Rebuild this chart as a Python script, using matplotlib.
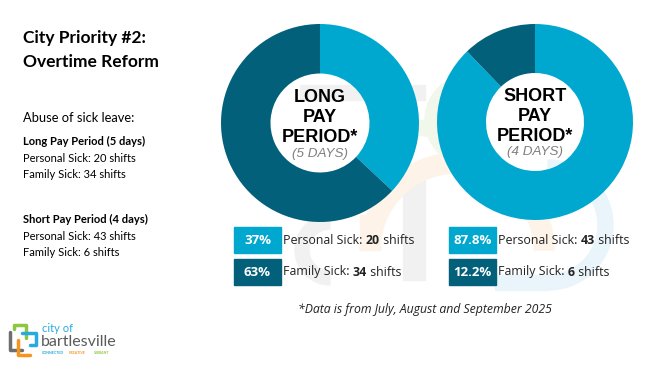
import matplotlib.pyplot as plt
from matplotlib.patches import Rectangle, Wedge

# data
periods = [["LONG", "PAY", "PERIOD*"], ["SHORT", "PAY", "PERIOD*"]]
period_days = ["(5 DAYS)", "(4 DAYS)"]
personal_pct = [37, 87.8]
family_pct = [63, 12.2]
personal_shifts = [20, 43]
family_shifts = [34, 6]
pct_labels = [["37%", "63%"], ["87.8%", "12.2%"]]

light = "#00A8CF"
dark = "#03607A"

W, H = 646, 365
fig = plt.figure(figsize=(W / 100, H / 100), dpi=100)
bg = fig.add_axes([0, 0, 1, 1])
bg.set_xlim(0, W)
bg.set_ylim(H, 0)
bg.axis("off")

# faint watermark logo behind the donuts
bg.add_patch(Wedge((428, 78), 58, 0, 180, width=15, color="#F2F7EC", zorder=0))
bg.add_patch(Wedge((470, 120), 45, 90, 270, width=14, color="#F2F7EC", zorder=0))
bg.add_patch(Rectangle((300, 85), 125, 15, color="#F1F1F1", zorder=0))
bg.add_patch(Rectangle((403, 172), 22, 108, color="#F1F1F1", zorder=0))
bg.add_patch(Wedge((330, 250), 35, 90, 270, width=14, color="#F1F1F1", zorder=0))
bg.add_patch(Wedge((457, 250), 97, 180, 360, width=20, color="#FDF3E9", zorder=0))
bg.add_patch(Rectangle((360, 215), 20, 35, color="#FDF3E9", zorder=0))
bg.add_patch(Wedge((548, 225), 65, -90, 90, width=15, color="#E9F5FB", zorder=0))
bg.add_patch(Rectangle((495, 275), 53, 15, color="#E9F5FB", zorder=0))

# left text panel
tf = "Lato"
bg.text(23, 38, "City Priority #2:", fontsize=12.5, fontweight="bold", family=tf, va="center")
bg.text(23, 62, "Overtime Reform", fontsize=12.5, fontweight="bold", family=tf, va="center")
bg.text(23, 118, "Abuse of sick leave:", fontsize=9.3, family=tf, va="center")
lines = [
    (141, "Long Pay Period (5 days)", "bold"),
    (158, f"Personal Sick: {personal_shifts[0]} shifts", "normal"),
    (175, f"Family Sick: {family_shifts[0]} shifts", "normal"),
    (219, "Short Pay Period (4 days)", "bold"),
    (236, f"Personal Sick: {personal_shifts[1]} shifts", "normal"),
    (253, f"Family Sick: {family_shifts[1]} shifts", "normal"),
]
for y, s, w in lines:
    bg.text(23, y, s, fontsize=8, fontweight=w, family=tf, va="center")

# donuts
centers = [(320, 123, 99), (535, 122, 98)]
for i, (cx, cy, r) in enumerate(centers):
    ax = fig.add_axes([(cx - r) / W, 1 - (cy + r) / H, 2 * r / W, 2 * r / H])
    ax.pie([personal_pct[i], family_pct[i]], colors=[light, dark], startangle=90,
           counterclock=False, radius=1, wedgeprops=dict(width=0.5, linewidth=0))
    ax.set_xlim(-1, 1)
    ax.set_ylim(-1, 1)
    ax.set_aspect("auto")
    ax.axis("off")
    for k, word in enumerate(periods[i]):
        ax.text(0, 0.212 - k * 0.202, word, ha="center", va="baseline", fontsize=13,
                fontweight="bold", family="Liberation Sans")
    ax.text(0, -0.34, period_days[i], ha="center", va="baseline", fontsize=9.7,
            style="italic", color="#7F7F7F", family="Liberation Sans")

# legend boxes
fig.canvas.draw()
rend = fig.canvas.get_renderer()
lf = "Open Sans"
box_x = [234, 449]
rows = [(227, light), (259, dark)]
for i in range(2):
    labels = [("Personal Sick: ", personal_shifts[i]), ("Family Sick: ", family_shifts[i])]
    for j, (by, col) in enumerate(rows):
        bw = 47
        bg.add_patch(Rectangle((box_x[i], by), bw, 26, color=col, zorder=2))
        bg.text(box_x[i] + bw / 2, by + 13, pct_labels[i][j], ha="center", va="center",
                color="white", fontsize=9.5, fontweight="bold", family=lf, zorder=3)
        x = box_x[i] + bw + 2
        for s, wt in [(labels[j][0], "normal"), (str(labels[j][1]), "bold"), (" shifts", "normal")]:
            t = bg.text(x, by + 13, s, ha="left", va="center", fontsize=8.9,
                        fontweight=wt, family=lf, color="#222222", zorder=3)
            bb = t.get_window_extent(renderer=rend)
            x += bb.width

bg.text(425, 309, "*Data is from July, August and September 2025", ha="center", va="center",
        fontsize=8.8, style="italic", family=lf, color="#222222")

# city logo (simplified)
bg.plot([10, 10, 22], [332, 350, 350], color="#6D6E70", lw=2.5, solid_capstyle="round")
bg.plot([14, 14, 26, 26], [329, 325, 325, 338], color="#8DC63F", lw=2.5, solid_capstyle="round")
bg.plot([22, 36, 36, 30], [333, 333, 345, 345], color="#27AAE1", lw=2.5, solid_capstyle="round")
bg.plot([18, 18, 30], [340, 355, 355], color="#F7941D", lw=2.5, solid_capstyle="round")
bg.text(42, 328, "city of", fontsize=8, color="#27AAE1", family="Lato", va="center")
bg.text(41, 342, "bartlesville", fontsize=11.5, color="#5A5B5D", family="Lato", va="center")
bg.text(42, 352.5, "CONNECTED", fontsize=2.6, color="#27AAE1", family="Lato", fontweight="bold", va="center")
bg.text(69, 352.5, "CREATIVE", fontsize=2.6, color="#F7941D", family="Lato", fontweight="bold", va="center")
bg.text(93, 352.5, "VIBRANT", fontsize=2.6, color="#8DC63F", family="Lato", fontweight="bold", va="center")

fig.savefig("out.png", dpi=100)
